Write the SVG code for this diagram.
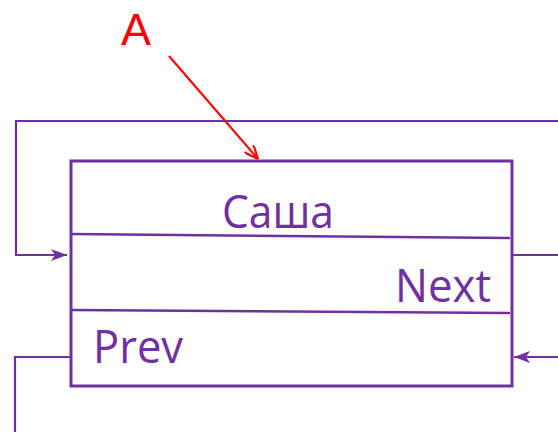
<svg xmlns="http://www.w3.org/2000/svg" width="558" height="432" viewBox="0 0 558 432">
  <style>
    .box { fill: #ffffff; stroke: #7030A0; stroke-width: 3; }
    .div { fill: none; stroke: #7030A0; stroke-width: 2.5; }
    .wire { fill: none; stroke: #7030A0; stroke-width: 2.2; }
    .lbl { font-family: "Open Sans", "Noto Sans", sans-serif; font-size: 45px; fill: #7030A0; }
    .tag { font-family: "Liberation Sans", Arial, sans-serif; font-size: 45px; fill: #FF0000; }
  </style>
  <defs>
    <marker id="pArrow" viewBox="0 0 16 12" refX="16" refY="6" markerWidth="16" markerHeight="12" markerUnits="userSpaceOnUse" orient="auto">
      <path d="M0,0 L16,6 L0,12 L4,6 Z" fill="#7030A0"/>
    </marker>
    <marker id="rArrow" viewBox="0 0 14 12" refX="14" refY="6" markerWidth="14" markerHeight="12" markerUnits="userSpaceOnUse" orient="auto">
      <path d="M0,0 L14,6 L0,12" fill="none" stroke="#FF0000" stroke-width="2.2"/>
    </marker>
  </defs>

  <g id="connectors">
    <polyline class="wire" points="558,121 16,121 16,255 67,255" marker-end="url(#pArrow)"/>
    <line class="wire" x1="512" y1="255" x2="558" y2="255"/>
    <line class="wire" x1="558" y1="357" x2="514" y2="357" marker-end="url(#pArrow)"/>
    <polyline class="wire" points="71,357 15,357 15,432"/>
    <line x1="169" y1="56" x2="258" y2="159" stroke="#FF0000" stroke-width="2.2" marker-end="url(#rArrow)"/>
  </g>

  <g id="node-sasha">
    <rect class="box" x="71" y="161" width="441" height="225"/>
    <line class="div" x1="71" y1="234" x2="510" y2="238"/>
    <line class="div" x1="71" y1="310" x2="510" y2="313"/>
    <text class="lbl" x="222" y="228" textLength="112" lengthAdjust="spacingAndGlyphs">Саша</text>
    <text class="lbl" x="395" y="302" textLength="96" lengthAdjust="spacingAndGlyphs">Next</text>
    <text class="lbl" x="93" y="363" textLength="90" lengthAdjust="spacingAndGlyphs">Prev</text>
  </g>

  <g id="label-a">
    <text class="tag" x="121" y="45">A</text>
  </g>
</svg>
